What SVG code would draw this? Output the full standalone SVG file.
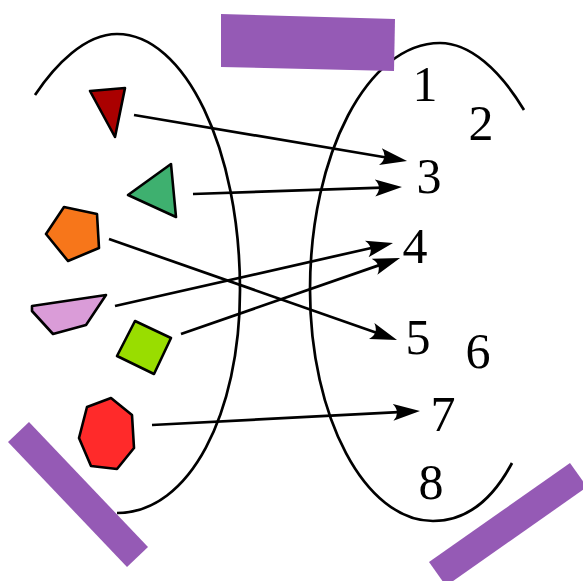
<svg xmlns="http://www.w3.org/2000/svg" width="583" height="581" viewBox="0 0 583 581">
<style>
.set{fill:none;stroke:#000;stroke-width:2.7}
.shape{stroke:#000;stroke-width:2.6;stroke-linejoin:round}
.con{stroke:#000;stroke-width:2.7;fill:none;marker-end:url(#ah)}
.num{font-family:"Liberation Serif","DejaVu Serif",serif;font-size:50px;fill:#000;text-anchor:middle}
.bar{fill:#955ab5}
</style>
<defs>
<marker id="ah" markerUnits="userSpaceOnUse" viewBox="0 0 28 18" markerWidth="28" markerHeight="18" refX="15" refY="9" orient="auto">
<path d="M27,9 L0,0.5 Q8,9 0,17.5 Z" fill="#000"/>
</marker>
</defs>
<rect width="583" height="581" fill="#fff"/>
<g id="set-left"><path class="set" d="M35,95 C55,65 85,34 117,34 C185,34 240,149 240,290 C240,413 190,513 117,513"/></g>
<g id="set-right"><path class="set" d="M524,110 C500,70 470,43 440,43 C368,43 310,154 310,290 C310,417 365,521 433,521 C470,521 495,495 512,463"/></g>
<g id="connectors">
<line class="con" x1="134" y1="115" x2="395.2" y2="159"/>
<line class="con" x1="193" y1="194" x2="390" y2="187.4"/>
<line class="con" x1="109" y1="239" x2="385.7" y2="336"/>
<line class="con" x1="115" y1="306" x2="381.3" y2="245.7"/>
<line class="con" x1="181" y1="334" x2="388.7" y2="261.9"/>
<line class="con" x1="152" y1="425" x2="408" y2="411.6"/>
</g>
<g id="red-triangle"><polygon class="shape" fill="#aa0000" points="90,91 125,88 115,137"/></g>
<g id="green-triangle"><polygon class="shape" fill="#3eb06f" points="128,195 171,164 176,217"/></g>
<g id="orange-pentagon"><polygon class="shape" fill="#f7761a" points="46,234 64,207 97,214 99,248 68,261"/></g>
<g id="pink-quad"><polygon class="shape" fill="#da9cd8" points="32,306 106,295 86,325 53,334 32,311"/></g>
<g id="lime-square"><polygon class="shape" fill="#99dd00" points="135,321 171,338 154,374 117,356"/></g>
<g id="red-heptagon"><polygon class="shape" fill="#ff2a2a" points="87,407 111,398 132,415 134,448 117,469 91,466 79,438"/></g>
<g id="labels">
<text class="num" x="425" y="101">1</text>
<text class="num" x="481" y="140">2</text>
<text class="num" x="429" y="193">3</text>
<text class="num" x="415" y="263">4</text>
<text class="num" x="418" y="354">5</text>
<text class="num" x="478" y="368">6</text>
<text class="num" x="443" y="431">7</text>
<text class="num" x="431" y="499">8</text>
</g>
<g id="bars">
<polygon class="bar" points="221,14 395,19 394,71 221,67"/>
<polygon class="bar" points="8,442 29,422 148,547 127,567"/>
<polygon class="bar" points="429,562 570,463 587,487 446,586"/>
</g>
</svg>
